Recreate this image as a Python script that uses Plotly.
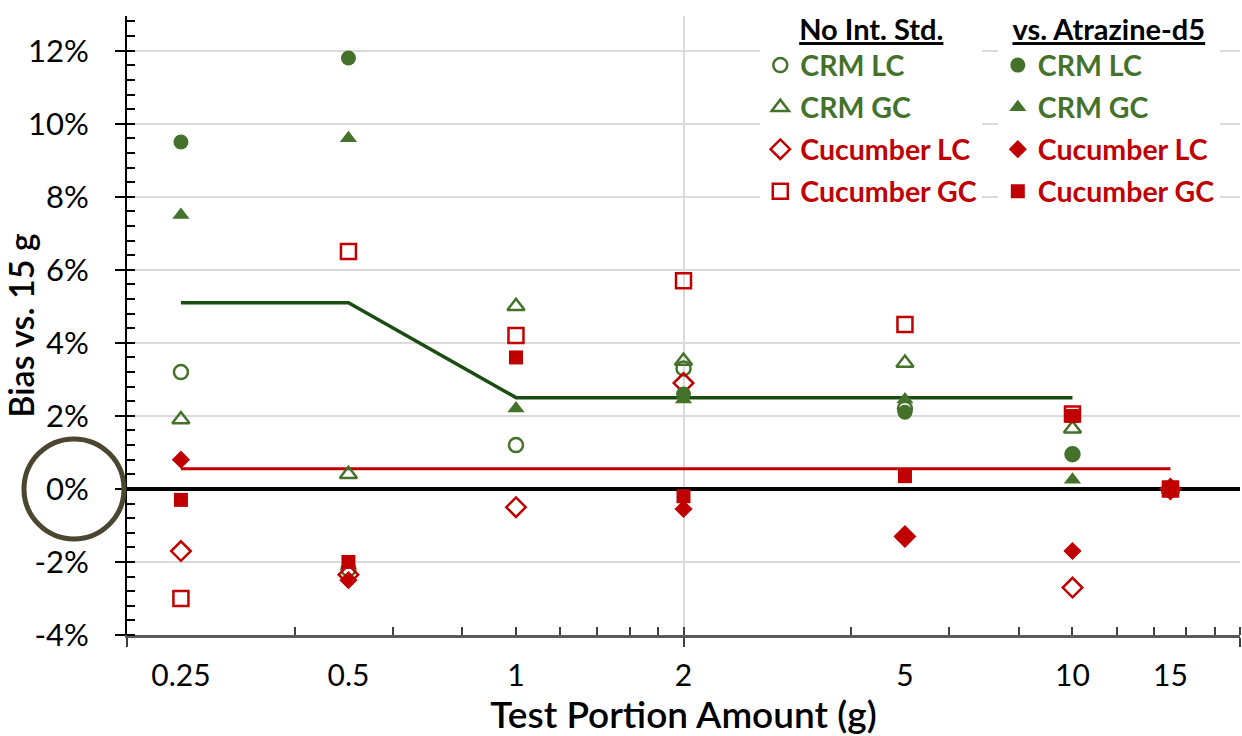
import math
import plotly.graph_objects as go

# Test portion amounts (g)
amounts = [0.25, 0.5, 1, 2, 5, 10, 15]
amount_labels = ["0.25", "0.5", "1", "2", "5", "10", "15"]

# Bias axis ticks (%)
bias_ticks = [-4, -2, 0, 2, 4, 6, 8, 10, 12]
bias_labels = [f"{v}%" for v in bias_ticks]

# Bias vs. 15 g (%), no internal standard
crm_lc_none = [3.2, -2.2, 1.2, 3.3, 2.2, 0.95, 0]
crm_gc_none = [1.9, 0.4, 5.0, 3.5, 3.45, 1.65, 0]
cuc_lc_none = [-1.7, -2.35, -0.5, 2.9, -1.3, -2.7, 0]
cuc_gc_none = [-3.0, 6.5, 4.2, 5.7, 4.5, 2.05, 0]

# Bias vs. 15 g (%), corrected with Atrazine-d5
crm_lc_atz = [9.5, 11.8, None, 2.6, 2.1, 0.95, 0]
crm_gc_atz = [7.5, 9.6, 2.2, 2.45, 2.45, 0.25, 0]
cuc_lc_atz = [0.8, -2.5, None, -0.55, -1.3, -1.7, 0]
cuc_gc_atz = [-0.3, -2.0, 3.6, -0.2, 0.35, 2.0, 0]

# Acceptance limit lines
crm_limit_x = [0.25, 0.5, 1, 10]
crm_limit_y = [5.1, 5.1, 2.5, 2.5]
cuc_limit_x = [0.25, 15]
cuc_limit_y = [0.55, 0.55]

GREEN = "#44722b"
DARK_GREEN = "#1b4d12"
RED = "#c00000"
FONT = "Lato"

X_MIN, X_MAX = 0.2, 20
Y_MIN, Y_MAX = -4, 12.95

fig = go.Figure()

fig.add_trace(go.Scatter(x=crm_limit_x, y=crm_limit_y, mode="lines",
                         line=dict(color=DARK_GREEN, width=3.5), showlegend=False, hoverinfo="skip"))
fig.add_trace(go.Scatter(x=cuc_limit_x, y=cuc_limit_y, mode="lines",
                         line=dict(color=RED, width=3), showlegend=False, hoverinfo="skip"))


def label(text, color):
    return f'<span style="color:{color}">{text}</span>'


series = [
    ("legend", "CRM LC", crm_lc_none, "circle-open", GREEN, 14),
    ("legend", "CRM GC", crm_gc_none, "triangle-up-open", GREEN, 15),
    ("legend", "Cucumber LC", cuc_lc_none, "diamond-open", RED, 15),
    ("legend", "Cucumber GC", cuc_gc_none, "square-open", RED, 15),
    ("legend2", "CRM LC", crm_lc_atz, "circle", GREEN, 15),
    ("legend2", "CRM GC", crm_gc_atz, "triangle-up", GREEN, 15),
    ("legend2", "Cucumber LC", cuc_lc_atz, "diamond", RED, 14),
    ("legend2", "Cucumber GC", cuc_gc_atz, "square", RED, 14),
]

for i, (leg, name, vals, symbol, color, size) in enumerate(series):
    is_open = symbol.endswith("-open")
    fig.add_trace(go.Scatter(
        x=amounts, y=vals, mode="markers", name=label(name, color),
        legend=leg, legendgroup=f"g{i}",
        marker=dict(symbol=symbol, size=size, color=color,
                    line=dict(color=color, width=2.5 if is_open else 0)),
    ))

# invisible anchor trace for the labelled amount axis
fig.add_trace(go.Scatter(x=[amounts[0]], y=[0], xaxis="x2", mode="markers",
                         marker=dict(opacity=0), showlegend=False, hoverinfo="skip"))

minor_x = [0.2 * k for k in range(2, 10)] + [2 * k for k in range(1, 11)]

legend_font = dict(size=28.5, weight="bold")
title_font = dict(size=29, weight="bold", color="black")

fig.update_layout(
    width=1242, height=736,
    margin=dict(l=127, r=2, t=13, b=101),
    plot_bgcolor="white", paper_bgcolor="white",
    font=dict(family=FONT, size=31, color="black"),
    xaxis=dict(
        type="log", range=[math.log10(X_MIN), math.log10(X_MAX)],
        tickvals=[0.2, 2, 20], showticklabels=False, automargin=False,
        ticks="outside", ticklen=9, tickwidth=2, tickcolor="#404040",
        showgrid=True, gridcolor="#dadada", gridwidth=2,
        showline=True, linecolor="#5a5a5a", linewidth=3, zeroline=False,
        minor=dict(tickvals=minor_x, ticks="inside", ticklen=8, tickwidth=2,
                   tickcolor="#404040", showgrid=False),
    ),
    xaxis2=dict(
        type="log", range=[math.log10(X_MIN), math.log10(X_MAX)],
        overlaying="x", anchor="y", side="bottom", automargin=False,
        tickvals=amounts, ticktext=amount_labels, ticks="",
        ticklabelstandoff=20, showgrid=False, showline=False, zeroline=False,
        tickfont=dict(size=30),
        title=dict(text="Test Portion Amount (g)", font=dict(size=37, weight=600), standoff=12),
    ),
    yaxis=dict(
        range=[Y_MIN, Y_MAX], tickvals=bias_ticks, ticktext=bias_labels,
        automargin=False,
        ticks="outside", ticklen=10, tickwidth=2, tickcolor="black",
        ticklabelstandoff=20,
        showline=True, linecolor="black", linewidth=2,
        showgrid=True, gridcolor="#dadada", gridwidth=2,
        zeroline=True, zerolinecolor="black", zerolinewidth=3.5,
        minor=dict(tick0=-4, dtick=0.4, ticks="inside", ticklen=8, tickwidth=2,
                   tickcolor="black", showgrid=False),
        title=dict(text="Bias vs. 15 g", font=dict(size=34, weight=600), standoff=10),
    ),
    legend=dict(
        x=0.569, y=1.022, xanchor="left", yanchor="top", bgcolor="white",
        font=legend_font, itemwidth=30, tracegroupgap=2,
        traceorder="grouped",
        title=dict(text='<span style="text-decoration:underline">No Int. Std.</span>',
                   side="top center", font=title_font),
    ),
    legend2=dict(
        x=0.7824, y=1.022, xanchor="left", yanchor="top", bgcolor="white",
        font=legend_font, itemwidth=30, tracegroupgap=2,
        traceorder="grouped",
        title=dict(text='<span style="text-decoration:underline">vs. Atrazine-d5</span>',
                   side="top center", font=title_font),
    ),
)

# highlight ring around the 0% tick label
zero_frac = (0 - Y_MIN) / (Y_MAX - Y_MIN)
fig.add_shape(type="circle", xref="paper", yref="paper",
              xsizemode="pixel", ysizemode="pixel", xanchor=0, yanchor=zero_frac,
              x0=-103, x1=-3, y0=-50, y1=50,
              line=dict(color="#4b4630", width=5))

fig.write_html("out.html")
